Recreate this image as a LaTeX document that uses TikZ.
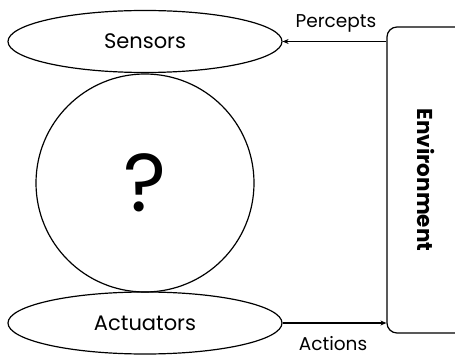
\documentclass[tikz,border=0pt]{standalone}
\usepackage{fontspec}
\setmainfont{Poppins}
\usetikzlibrary{shapes.geometric,arrows.meta}
\begin{document}
\begin{tikzpicture}[x=1pt,y=-1pt,
  line/.style={line width=1.2pt},
  part/.style={draw,line,ellipse,inner sep=0pt,minimum width=274pt,minimum height=62pt,font=\fontsize{21}{24}\selectfont},
  flow/.style={line,-{Stealth[length=6pt,width=5pt]}},
  lbl/.style={font=\fontsize{18.5}{22}\selectfont,inner sep=0pt}]
\useasboundingbox (0,0) rectangle (455,355);
\node[part] (sens) at (145,41.5) {Sensors};
\node[part] (act) at (145,323) {Actuators};
\node[draw,line,circle,inner sep=0pt,minimum size=218pt] (agent) at (145,183)
  {\fontsize{82}{90}\selectfont ?};
\node[draw,line,rectangle,rounded corners=10pt,inner sep=0pt,
  minimum width=78pt,minimum height=306pt] (env) at (426,180)
  {\rotatebox{-90}{\fontsize{21.5}{24}\selectfont\bfseries Environment}};
\draw[flow] (env.west |- sens.east) -- (sens.east);
\draw[flow] (act.east) -- (env.west |- act.east);
\node[lbl,anchor=base] (perc) at (336,28) {Percepts};
\node[lbl,anchor=base] (actn) at (333,350) {Actions};
\end{tikzpicture}
\end{document}
